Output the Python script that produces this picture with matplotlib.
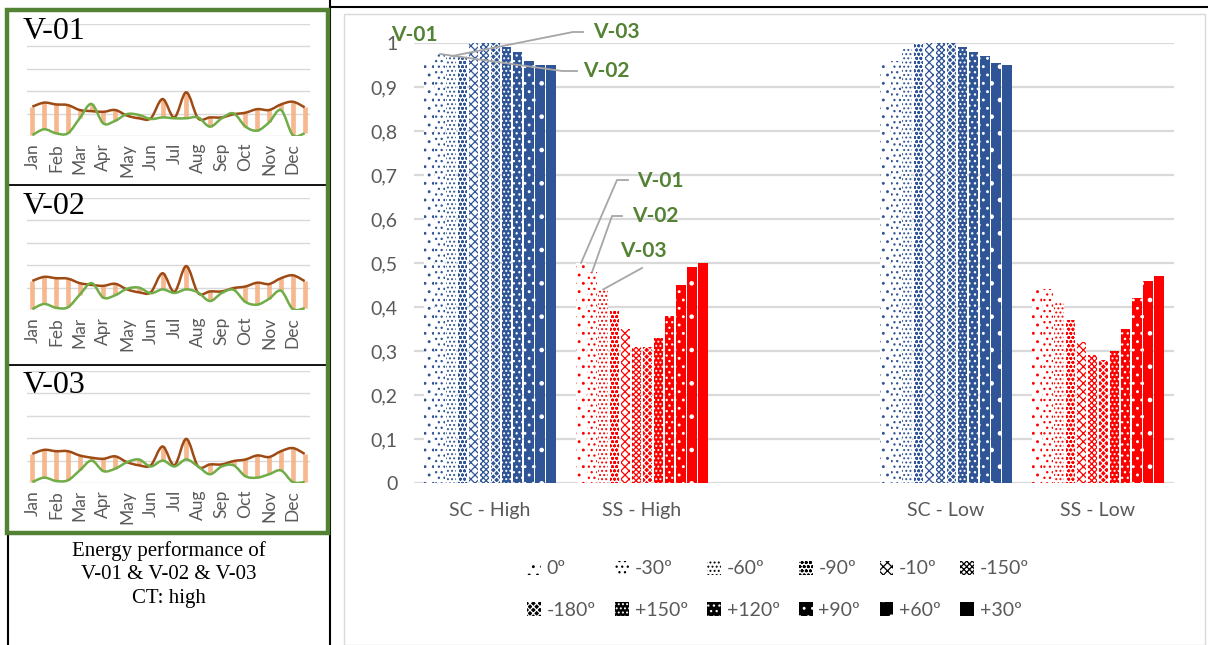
import numpy as np
import matplotlib
matplotlib.use("Agg")
import matplotlib.pyplot as plt
from matplotlib.patches import Rectangle, Patch, PathPatch
from matplotlib.path import Path
from matplotlib.lines import Line2D

# ---------------- data ----------------
categories = ["SC - High", "SS - High", "", "SC - Low", "SS - Low"]
orientations = ["0º", "-30º", "-60º", "-90º", "-10º", "-150º",
                "-180º", "+150º", "+120º", "+90º", "+60º", "+30º"]

sc_high = [0.96, 0.975, 0.97, 0.97, 1.0, 1.0, 1.0, 0.99, 0.98, 0.96, 0.95, 0.95]
ss_high = [0.50, 0.48, 0.44, 0.39, 0.35, 0.31, 0.31, 0.33, 0.38, 0.45, 0.49, 0.50]
sc_low = [0.955, 0.96, 0.99, 1.0, 1.0, 1.0, 1.0, 0.99, 0.98, 0.97, 0.955, 0.95]
ss_low = [0.44, 0.44, 0.41, 0.37, 0.32, 0.29, 0.28, 0.30, 0.35, 0.42, 0.46, 0.47]

yticks = [0, 0.1, 0.2, 0.3, 0.4, 0.5, 0.6, 0.7, 0.8, 0.9, 1.0]
ytick_labels = ["0", "0,1", "0,2", "0,3", "0,4", "0,5", "0,6", "0,7", "0,8", "0,9", "1"]

variants = ["V-01", "V-02", "V-03"]
months = ["Jan", "Feb", "Mar", "Apr", "May", "Jun",
          "Jul", "Aug", "Sep", "Oct", "Nov", "Dec"]

# two readings per month (demand curve and supply curve)
v01_demand = [1.31, 1.49, 1.41, 1.38, 1.16, 1.11, 1.08, 1.16, 0.91, 0.79, 0.79, 1.65,
              0.83, 1.95, 0.79, 0.83, 0.83, 0.97, 1.04, 1.20, 1.16, 1.41, 1.53, 1.28]
v01_supply = [0.04, 0.30, 0.12, 0.12, 0.79, 1.43, 0.56, 0.68, 0.98, 0.94, 0.76, 0.83,
              0.79, 0.79, 0.83, 0.42, 0.79, 1.01, 0.42, 0.24, 0.61, 1.16, 0.04, 0.12]
v02_demand = [1.30, 1.48, 1.42, 1.40, 1.20, 1.12, 1.08, 1.17, 0.92, 0.79, 0.79, 1.64,
              0.81, 1.96, 0.76, 0.83, 0.83, 0.98, 1.05, 1.22, 1.16, 1.42, 1.55, 1.29]
v02_supply = [0.04, 0.27, 0.10, 0.12, 0.68, 1.20, 0.55, 0.66, 0.95, 1.00, 0.75, 0.92,
              0.76, 0.92, 0.78, 0.40, 0.76, 0.90, 0.36, 0.24, 0.50, 0.86, 0.04, 0.08]
v03_demand = [1.30, 1.48, 1.42, 1.42, 1.23, 1.13, 1.08, 1.19, 0.93, 0.79, 0.79, 1.63,
              0.79, 1.97, 0.74, 0.83, 0.83, 0.98, 1.05, 1.23, 1.16, 1.42, 1.56, 1.30]
v03_supply = [0.04, 0.24, 0.09, 0.12, 0.56, 1.00, 0.53, 0.64, 0.93, 1.05, 0.74, 1.00,
              0.74, 1.05, 0.74, 0.39, 0.74, 0.79, 0.30, 0.24, 0.39, 0.56, 0.04, 0.04]

caption = ["Energy performance of", "V-01 & V-02 & V-03", "CT: high"]

# ---------------- styling ----------------
W, H = 1208, 645
BLUE = "#2F5597"
RED = "#FF0000"
GREEN_LBL = "#548235"
GRID = "#D9D9D9"
TXT = "#595959"
SANS = ["Lato", "DejaVu Sans"]
SERIF = ["Liberation Serif", "DejaVu Serif"]

plt.rcParams["hatch.linewidth"] = 0.9
plt.rcParams["font.family"] = SANS

fig = plt.figure(figsize=(W / 100, H / 100), dpi=100)


def fx(px):
    return px / W


def fy(py):
    return 1 - py / H


def add_ax(x0, y_top, x1, y_bot, **kw):
    return fig.add_axes([fx(x0), fy(y_bot), (x1 - x0) / W, (y_bot - y_top) / H], **kw)


# pattern per orientation: (face, hatch colour, hatch)
patterns = [
    ("white", "c", ".."),
    ("white", "c", "..."),
    ("white", "c", "...."),
    ("white", "c", "oooo"),
    ("white", "c", "xxxx"),
    ("white", "c", "xxxxxx"),
    ("c", "white", "xxxxx"),
    ("c", "white", "...."),
    ("c", "white", "..."),
    ("c", "white", ".."),
    ("c", "white", "."),
    ("c", "c", None),
]

# ---------------- main bar chart ----------------
ax = add_ax(414, 43, 1174, 483)
ax.set_xlim(-0.5, 4.5)
ax.set_ylim(0, 1.0)
for s in ax.spines.values():
    s.set_visible(False)
ax.set_yticks(yticks)
ax.set_yticklabels(ytick_labels, fontsize=14, color=TXT)
ax.set_xticks([0, 1, 3, 4])
ax.set_xticklabels([categories[i] for i in (0, 1, 3, 4)], fontsize=14, color=TXT)
ax.tick_params(axis="both", length=0)
ax.tick_params(axis="y", pad=12)
ax.tick_params(axis="x", pad=14)
ax.yaxis.grid(True, color=GRID, lw=1.6)
ax.set_axisbelow(True)

series_by_cat = [sc_high, ss_high, None, sc_low, ss_low]
cat_colors = [BLUE, RED, None, BLUE, RED]
pitch = 133 / 12 / 152
bar_w = pitch * 0.86
cat_idx = [0, 1, 3, 4]
tops = {}
for j in range(12):
    face, hcol, hatch = patterns[j]
    xs = [c + (j - 5.5) * pitch for c in cat_idx]
    vals = [series_by_cat[c][j] for c in cat_idx]
    cols = [cat_colors[c] for c in cat_idx]
    fcs = [col if face == "c" else face for col in cols]
    ecs = [col if hcol == "c" else hcol for col in cols]
    ax.bar(xs, vals, width=bar_w, color=fcs, edgecolor=ecs, linewidth=0,
           hatch=hatch, zorder=2)
    for c, x, v in zip(cat_idx, xs, vals):
        tops[(c, j)] = (x, v)


def px2data(px, py):
    return ((px - 414) / 152 - 0.5, (483 - py) / 440)


def leader(cat, j, pts_px, label, lbl_px, ha="left"):
    x0, y0 = tops[(cat, j)]
    xs = [x0] + [px2data(*p)[0] for p in pts_px]
    ys = [y0] + [px2data(*p)[1] for p in pts_px]
    if pts_px:
        ax.plot(xs, ys, color="#A6A6A6", lw=1.3, clip_on=False, zorder=3)
    lx, ly = px2data(*lbl_px)
    ax.text(lx, ly, label, color=GREEN_LBL, fontsize=15, fontweight="bold",
            ha=ha, va="center", clip_on=False, zorder=4)


# labels on the SC - High group
leader(0, 0, [], "V-01", (391, 35))
leader(0, 1, [(562, 71), (577, 71)], "V-02", (583, 71))
leader(0, 2, [(573, 32), (583, 32)], "V-03", (593, 32))
# labels on the SS - High group
leader(1, 0, [(617, 180), (628, 180)], "V-01", (637, 181))
leader(1, 1, [(612, 216), (622, 216)], "V-02", (632, 216))
leader(1, 2, [(642, 268)], "V-03", (620, 251))

# legend, filled row by row
handles = []
for j in range(12):
    face, hcol, hatch = patterns[j]
    fc = "black" if face == "c" else face
    ec = "black" if hcol == "c" else hcol
    handles.append(Patch(facecolor=fc, edgecolor=ec, linewidth=0, hatch=hatch,
                         label=orientations[j]))
ordered = []
for c in range(6):
    ordered += [handles[c], handles[c + 6]]
fig.legend(handles=ordered, loc="upper center", bbox_to_anchor=(fx(778), fy(543)),
           ncol=6, frameon=False, fontsize=14, labelcolor=TXT,
           handlelength=0.7, handleheight=0.7, handletextpad=0.3,
           columnspacing=1.0, labelspacing=1.25)

# ---------------- monthly panels ----------------
panel_bottoms = [136, 310, 483]
curves = [(v01_demand, v01_supply), (v02_demand, v02_supply), (v03_demand, v03_supply)]
title_tops = [17, 192, 371]


def smooth_path(xs, ys):
    pts = np.column_stack([xs, ys])
    n = len(pts)
    verts = [pts[0]]
    codes = [Path.MOVETO]
    for i in range(n - 1):
        p0 = pts[max(i - 1, 0)]
        p1 = pts[i]
        p2 = pts[i + 1]
        p3 = pts[min(i + 2, n - 1)]
        c1 = p1 + (p2 - p0) / 6.0
        c2 = p2 - (p3 - p1) / 6.0
        verts += [c1, c2, p2]
        codes += [Path.CURVE4] * 3
    return Path(verts, codes)


for k in range(3):
    yb = panel_bottoms[k]
    pax = add_ax(27, yb - 112, 310, yb)
    demand, supply = curves[k]
    idx = np.arange(len(demand))
    pax.set_xlim(-0.45, len(demand) - 0.55)
    pax.set_ylim(0, 5)
    for s in pax.spines.values():
        s.set_visible(False)
    pax.set_yticks(range(6))
    pax.set_yticklabels([])
    pax.yaxis.grid(True, color=GRID, lw=1.0)
    pax.set_axisbelow(True)
    pax.set_xticks(idx[::2])
    pax.set_xticklabels(months, rotation=90, fontsize=12.5, color=TXT, va="top")
    pax.tick_params(length=0, pad=5)
    lo = np.minimum(demand, supply)
    hi = np.maximum(demand, supply)
    pax.vlines(idx, lo, hi, color="#F4B183", lw=3.4, alpha=0.9, zorder=1)
    pax.add_patch(PathPatch(smooth_path(idx, demand), fill=False,
                            edgecolor="#9E4A14", lw=1.8, zorder=3))
    pax.add_patch(PathPatch(smooth_path(idx, supply), fill=False,
                            edgecolor="#70AD47", lw=1.8, zorder=3))
    fig.text(fx(23), fy(title_tops[k]), variants[k], family=SERIF, fontsize=23,
             ha="left", va="top", color="black")

# frames and separators
fig.patches.append(Rectangle((fx(7), fy(533)), (328 - 7) / W, (533 - 10) / H,
                             transform=fig.transFigure, fill=False,
                             edgecolor="#548235", lw=3.2, zorder=5))
for yy in (185, 365):
    fig.lines.append(Line2D([fx(9), fx(326)], [fy(yy), fy(yy)], color="black",
                            lw=1.3, transform=fig.transFigure))
fig.lines.append(Line2D([fx(8), fx(8)], [fy(533), fy(645)], color="black", lw=1.5,
                        transform=fig.transFigure))
fig.lines.append(Line2D([fx(330), fx(330)], [fy(0), fy(645)], color="black", lw=1.5,
                        transform=fig.transFigure))
fig.lines.append(Line2D([fx(330), fx(1208)], [fy(7), fy(7)], color="black", lw=1.5,
                        transform=fig.transFigure))
fig.patches.append(Rectangle((fx(344), fy(645)), (1205 - 344) / W, (645 - 14) / H,
                             transform=fig.transFigure, fill=False,
                             edgecolor="#D9D9D9", lw=1.0))

for n, line in enumerate(caption):
    fig.text(fx(169), fy(551 + 23.5 * n), line, family=SERIF, fontsize=15,
             ha="center", va="center", color="black")

fig.savefig("out.png", dpi=100)
